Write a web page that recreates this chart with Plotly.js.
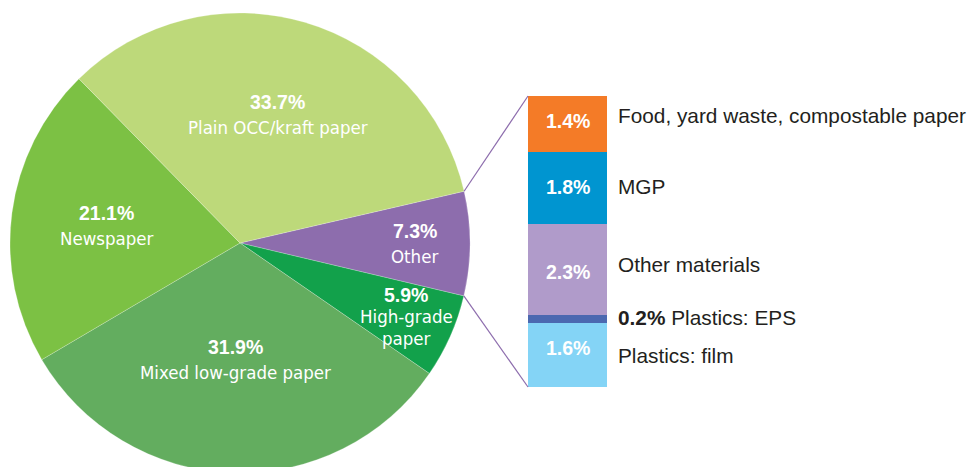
<!DOCTYPE html>
<html>
<head>
<meta charset="utf-8">
<script src="https://cdn.plot.ly/plotly-3.0.1.min.js"></script>
<style>
  html, body { margin: 0; padding: 0; background: #ffffff; overflow: hidden; }
  #wrap { width: 967px; height: 467px; overflow: hidden; }
</style>
</head>
<body>
<div id="wrap"><div id="chart"></div></div>
<script>
// ---------- DATA ----------
const pieLabels = ['Other', 'High-grade paper', 'Mixed low-grade paper', 'Newspaper', 'Plain OCC/kraft paper'];
const pieValues = [7.3, 5.9, 31.9, 21.1, 33.7];
const pieDisplay = ['Other', 'High-grade<br>paper', 'Mixed low-grade paper', 'Newspaper', 'Plain OCC/kraft paper'];

const otherLabels = ['Plastics: film', 'Plastics: EPS', 'Other materials', 'MGP', 'Food, yard waste, compostable paper'];
const otherValues = [1.6, 0.2, 2.3, 1.8, 1.4];

// ---------- STYLE ----------
const pieColors = ['#8d6dad', '#12a14b', '#63ad5f', '#7cc144', '#bdd97a'];
const barColors = ['#84d4f6', '#4b68b0', '#b09bca', '#0095d0', '#f47b27'];
const W = 967, H = 473, MT = 13;
const plotH = H - MT;
const pieRot = 77;                 // clockwise from 12 o'clock
const pieX0 = 10, pieX1 = 470;     // pixel extent of pie box
const labelRf = [0.76, 0.79, 0.51, 0.584, 0.582];
const labelSpacing = [25.5, 21.5, 25.5, 25.5, 25.5];
const barPx = [528, 607], barPy = [96, 387];
const pctShift = [7, 0, -2.7, 1, 3];
const nameShift = [0, 2, 5, 1, 8];

const boldFont = 'Liberation Sans, Arial, Helvetica, sans-serif';
const narrowFont = 'DejaVu Sans Condensed, Liberation Sans Narrow, Arial Narrow, sans-serif';
const darkText = '#231f20';

const px2x = px => px / W;
const py2y = py => (H - py) / plotH;

const total = pieValues.reduce((a, b) => a + b, 0);
const otherTotal = otherValues.reduce((a, b) => a + b, 0);
const R = (pieX1 - pieX0) / 2;
const cx = (pieX0 + pieX1) / 2, cy = MT + plotH / 2;

const traces = [];
traces.push({
  type: 'pie',
  labels: pieLabels,
  values: pieValues,
  sort: false,
  direction: 'clockwise',
  rotation: pieRot,
  textinfo: 'none',
  hoverinfo: 'label+percent',
  marker: { colors: pieColors, line: { color: 'rgba(255,255,255,0.45)', width: 0.5 } },
  domain: { x: [px2x(pieX0), px2x(pieX1)], y: [0, 1] },
  showlegend: false
});

otherLabels.forEach((lab, i) => {
  traces.push({
    type: 'bar',
    x: [0],
    y: [otherValues[i]],
    name: lab,
    width: 1,
    marker: { color: barColors[i], line: { width: 0 } },
    xaxis: 'x', yaxis: 'y',
    hoverinfo: 'name+y',
    showlegend: false
  });
});

const annotations = [];
// pie labels
let cum = 0;
pieValues.forEach((v, i) => {
  const midClock = pieRot + (cum + v / 2) / total * 360;
  cum += v;
  const a = (90 - midClock) * Math.PI / 180;
  const gx = cx + labelRf[i] * R * Math.cos(a);
  const gy = cy - labelRf[i] * R * Math.sin(a);
  const lines = [{ t: v.toFixed(1) + '%', bold: true }].concat(
    pieDisplay[i].split('<br>').map(t => ({ t: t, bold: false })));
  const n = lines.length;
  lines.forEach((ln, k) => {
    const py = gy + (k - (n - 1) / 2) * labelSpacing[i];
    annotations.push({
      xref: 'paper', yref: 'paper', x: px2x(gx), y: py2y(py),
      xanchor: 'center', yanchor: 'middle', showarrow: false,
      text: ln.bold ? '<b>' + ln.t + '</b>' : ln.t,
      font: ln.bold ? { family: boldFont, size: 19.5, color: '#ffffff' }
                    : { family: narrowFont, size: 18.5, color: '#ffffff' }
    });
  });
});

// bar labels
let c2 = 0;
otherValues.forEach((v, i) => {
  const mid = c2 + v / 2;
  c2 += v;
  const pct = v.toFixed(1) + '%';
  if (v >= 0.5) {
    annotations.push({
      xref: 'x', yref: 'y', x: 0, y: mid, yshift: pctShift[i],
      xanchor: 'center', yanchor: 'middle', showarrow: false,
      text: '<b>' + pct + '</b>',
      font: { family: boldFont, size: 19.5, color: '#ffffff' }
    });
    annotations.push({
      xref: 'x', yref: 'y', x: 0.5, xshift: 9, y: mid, yshift: nameShift[i],
      xanchor: 'left', yanchor: 'middle', showarrow: false,
      text: otherLabels[i],
      font: { family: boldFont, size: 20.8, color: darkText }
    });
  } else {
    annotations.push({
      xref: 'x', yref: 'y', x: 0.5, xshift: 9, y: mid, yshift: nameShift[i],
      xanchor: 'left', yanchor: 'middle', showarrow: false,
      text: '<b>' + pct + '</b> ' + otherLabels[i],
      font: { family: boldFont, size: 20.8, color: darkText }
    });
  }
});

// connector lines from the "Other" slice edges to the bar
const otherStart = (90 - pieRot) * Math.PI / 180;
const otherEnd = (90 - (pieRot + pieValues[0] / total * 360)) * Math.PI / 180;
const lineStyle = { color: '#8d6dad', width: 1.2 };
const shapes = [
  { type: 'line', xref: 'paper', yref: 'paper',
    x0: px2x(cx + R * Math.cos(otherStart)), y0: py2y(cy - R * Math.sin(otherStart)),
    x1: px2x(barPx[0]), y1: py2y(barPy[0]), line: lineStyle },
  { type: 'line', xref: 'paper', yref: 'paper',
    x0: px2x(cx + R * Math.cos(otherEnd)), y0: py2y(cy - R * Math.sin(otherEnd)),
    x1: px2x(barPx[0]), y1: py2y(barPy[1]), line: lineStyle }
];

const layout = {
  width: W, height: H,
  margin: { l: 0, r: 0, t: MT, b: 0, pad: 0 },
  paper_bgcolor: '#ffffff', plot_bgcolor: 'rgba(0,0,0,0)',
  barmode: 'stack',
  bargap: 0,
  showlegend: false,
  xaxis: { domain: [px2x(barPx[0]), px2x(barPx[1])], range: [-0.5, 0.5], visible: false, fixedrange: true },
  yaxis: { domain: [py2y(barPy[1]), py2y(barPy[0])], range: [0, otherTotal], visible: false, fixedrange: true },
  annotations: annotations,
  shapes: shapes
};

Plotly.newPlot('chart', traces, layout, { displayModeBar: false, responsive: false, staticPlot: true });
</script>
</body>
</html>
